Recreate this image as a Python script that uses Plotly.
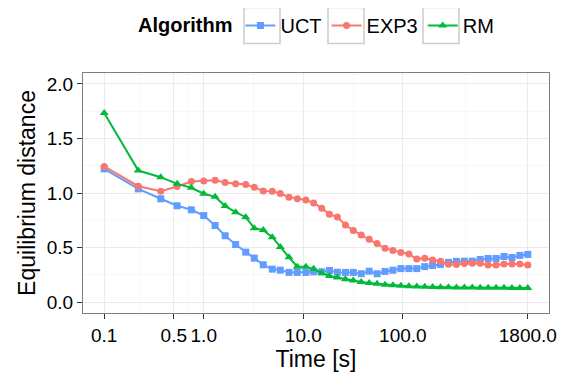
import plotly.graph_objects as go

time_s = [0.1, 0.22, 0.37, 0.54, 0.75, 1.0, 1.3, 1.64, 2.09, 2.64, 3.22, 3.96, 4.88, 5.87, 7.18, 8.7,
          10.6, 12.7, 15.3, 18.3, 22.0, 26.5, 31.8, 38.2, 45.9, 55.1, 66.2, 79.5, 95.5, 115, 138, 166,
          199, 239, 287, 345, 415, 498, 598, 719, 864, 1038, 1247, 1497, 1800]

uct = [1.222, 1.038, 0.947, 0.883, 0.846, 0.793, 0.702, 0.608, 0.528, 0.458, 0.403, 0.342, 0.302, 0.293, 0.272, 0.272,
       0.272, 0.277, 0.278, 0.290, 0.274, 0.272, 0.272, 0.260, 0.283, 0.260, 0.281, 0.292, 0.307, 0.307, 0.307, 0.325,
       0.336, 0.345, 0.364, 0.373, 0.375, 0.375, 0.391, 0.400, 0.400, 0.418, 0.409, 0.428, 0.437]

exp3 = [1.243, 1.062, 1.016, 1.060, 1.106, 1.110, 1.117, 1.096, 1.085, 1.078, 1.052, 1.018, 1.017, 0.995, 0.962, 0.947,
        0.935, 0.909, 0.861, 0.806, 0.780, 0.707, 0.657, 0.615, 0.575, 0.537, 0.493, 0.474, 0.455, 0.441, 0.394, 0.403,
        0.385, 0.374, 0.347, 0.345, 0.354, 0.357, 0.357, 0.341, 0.340, 0.350, 0.350, 0.349, 0.340]

rm = [1.734, 1.206, 1.145, 1.084, 1.048, 0.993, 0.965, 0.880, 0.824, 0.778, 0.678, 0.660, 0.595, 0.504, 0.410, 0.325,
      0.325, 0.305, 0.265, 0.240, 0.225, 0.210, 0.198, 0.185, 0.175, 0.168, 0.160, 0.155, 0.150, 0.146, 0.143, 0.140,
      0.138, 0.136, 0.135, 0.134, 0.133, 0.133, 0.132, 0.132, 0.131, 0.131, 0.130, 0.130, 0.130]

series_names = ["UCT", "EXP3", "RM"]
series_values = [uct, exp3, rm]
series_colors = ["#619CFF", "#F8766D", "#00BA38"]
series_symbols = ["square", "circle", "triangle-up"]
series_sizes = [7, 7, 8]

x_tickvals = [0.1, 0.5, 1.0, 10.0, 100.0, 1800.0]
x_ticktext = ["0.1", "0.5", "1.0", "10.0", "100.0", "1800.0"]
x_minor = [10 ** -0.6505, 10 ** -0.1505, 10 ** 0.5, 10 ** 1.5, 10 ** 2.6276]
y_tickvals = [0.0, 0.5, 1.0, 1.5, 2.0]
y_ticktext = ["0.0", "0.5", "1.0", "1.5", "2.0"]
y_minor = [0.25, 0.75, 1.25, 1.75]

FONT = "Liberation Sans, Arial, Helvetica, sans-serif"

# figure geometry (page body adds an 8px offset)
W, H = 558, 366
ML, MR, MT, MB = 75, 17, 65, 61
PW, PH = W - ML - MR, H - MT - MB

fig = go.Figure()
for name, vals, col, sym, sz in zip(series_names, series_values, series_colors, series_symbols, series_sizes):
    fig.add_trace(go.Scatter(
        x=time_s, y=vals, name=name, mode="lines+markers",
        line=dict(color=col, width=2),
        marker=dict(color=col, symbol=sym, size=sz),
    ))

axis_common = dict(
    showline=True, linecolor="#7F7F7F", linewidth=1, mirror=True,
    ticks="outside", ticklen=5, tickcolor="#333333", tickwidth=1,
    showgrid=True, gridcolor="#EBEBEB", gridwidth=1, zeroline=False, automargin=False,
    tickfont=dict(family=FONT, size=19, color="#000000"),
)

# legend key boxes (figure pixel coords -> paper coords)
key_left_px = [236, 320, 415]
shapes = []
for kx in key_left_px:
    shapes.append(dict(
        type="rect", xref="paper", yref="paper",
        x0=(kx - ML) / PW, x1=(kx + 36 - ML) / PW,
        y0=1 + (MT - 35.5) / PH, y1=1 + (MT + 0.5) / PH,
        line=dict(color="#CCCCCC", width=1.5), fillcolor="rgba(0,0,0,0)", layer="above",
    ))

fig.update_layout(
    template="none",
    width=W, height=H,
    margin=dict(l=ML, r=MR, t=MT, b=MB, autoexpand=False),
    paper_bgcolor="white", plot_bgcolor="white",
    font=dict(family=FONT, color="#000000"),
    xaxis=dict(
        type="log", range=[-1.213, 3.468],
        tickmode="array", tickvals=x_tickvals, ticktext=x_ticktext,
        minor=dict(tickmode="array", tickvals=x_minor, showgrid=True, gridcolor="#F7F7F7", ticks=""),
        title=dict(text="Time [s]", font=dict(family=FONT, size=23), standoff=2),
        **axis_common,
    ),
    yaxis=dict(
        range=[-0.1, 2.1],
        tickmode="array", tickvals=y_tickvals, ticktext=y_ticktext,
        minor=dict(tickmode="array", tickvals=y_minor, showgrid=True, gridcolor="#F7F7F7", ticks=""),
        title=dict(text="Equilibrium distance", font=dict(family=FONT, size=23), standoff=4),
        **axis_common,
    ),
    showlegend=True,
    legend=dict(
        orientation="h", x=(128 - ML) / PW, xanchor="left",
        y=1 + (MT + 2) / PH, yanchor="top", yref="paper",
        title=dict(text="<b>Algorithm</b>", font=dict(family=FONT, size=20), side="left"),
        font=dict(family=FONT, size=20),
        itemwidth=30, bgcolor="rgba(0,0,0,0)",
    ),
    shapes=shapes,
)

fig.write_html("out.html")
